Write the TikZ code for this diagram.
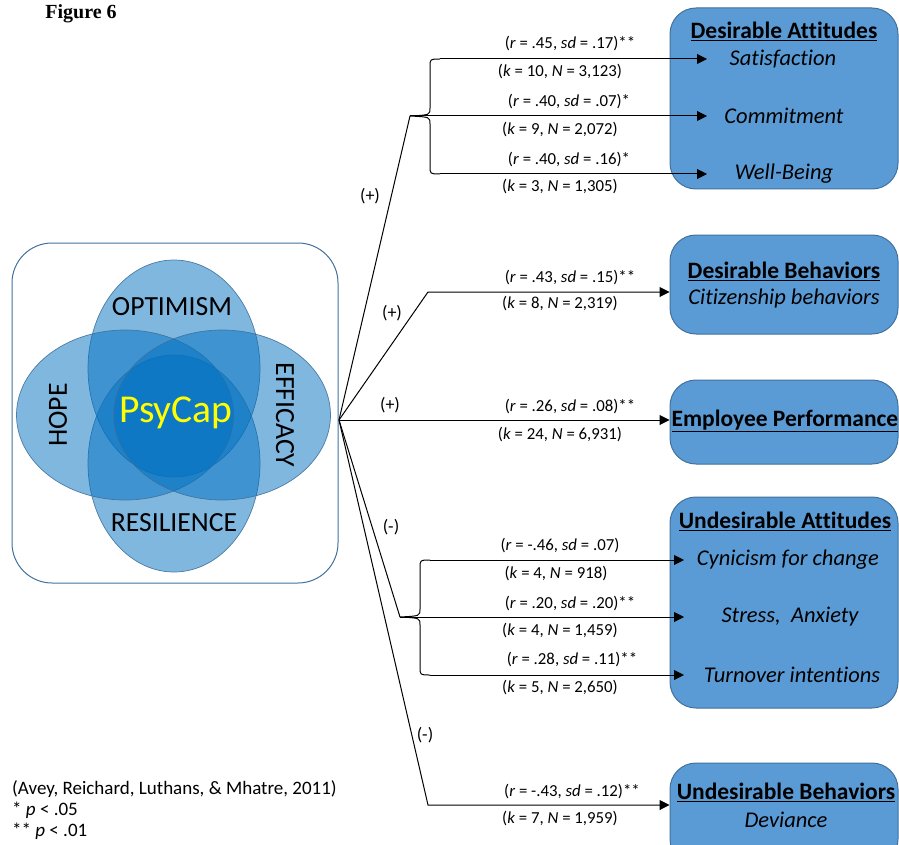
\documentclass[tikz,border=0pt]{standalone}
\usepackage{fontspec}
\setmainfont{Carlito}[Ligatures=NoCommon]
\newfontfamily\figfont{Liberation Serif}
\usetikzlibrary{arrows.meta,shapes.geometric}
\definecolor{venn}{RGB}{0,112,192}
\definecolor{boxfill}{RGB}{91,155,213}
\definecolor{boxline}{RGB}{65,113,156}
\definecolor{pyellow}{RGB}{255,255,0}
\begin{document}
\begin{tikzpicture}[x=1pt,y=-1pt,
  ell/.style={ellipse, inner sep=0pt, fill=venn, fill opacity=0.5, draw=boxline, draw opacity=0.9, line width=0.7pt},
  outbox/.style={draw=boxline, fill=boxfill, line width=1pt, rounded corners=26pt, inner sep=0pt},
  ttl/.style={font=\fontsize{23.5}{26}\selectfont\bfseries, inner sep=0pt},
  itm/.style={font=\fontsize{22.5}{25}\selectfont\itshape, inner sep=0pt},
  vlab/.style={font=\fontsize{27.7}{30}\selectfont, inner sep=0pt},
  stat/.style={font=\fontsize{16.8}{19}\selectfont, inner sep=0pt},
  sign/.style={font=\fontsize{18}{20}\selectfont, inner sep=0pt},
  note/.style={font=\fontsize{19}{21}\selectfont, inner sep=0pt, anchor=west},
  conn/.style={line width=1pt, draw=black},
  arr/.style={conn, -{Triangle[length=10pt,width=10pt]}},
]
\useasboundingbox (0,0) rectangle (899,845);

\node[font=\figfont\fontsize{20}{22}\selectfont\bfseries, inner sep=0pt] (fig) at (81,14) {Figure 6};

% PsyCap box and Venn
\node[draw=boxline, line width=1pt, rounded corners=40pt, minimum width=326pt, minimum height=340pt, inner sep=0pt] (pbox) at (175,413) {};
\node[ell, minimum width=172pt, minimum height=217pt] (eopt) at (174,368.5) {};
\node[ell, minimum width=172pt, minimum height=217pt] (eres) at (174,463.5) {};
\node[ell, minimum width=217pt, minimum height=170pt] (ehope) at (125,415) {};
\node[ell, minimum width=217pt, minimum height=170pt] (eeff) at (222,415) {};
\node[font=\fontsize{39.5}{42}\selectfont, text=pyellow, inner sep=0pt] (psy) at (176,413) {PsyCap};
\node[vlab] (opt) at (172,307) {OPTIMISM};
\node[vlab] (res) at (174,523) {RESILIENCE};
\node[vlab, rotate=90] (hope) at (58,415) {HOPE};
\node[vlab, rotate=-90] (eff) at (285,415) {EFFICACY};

% Outcome boxes
\node[outbox, minimum width=228pt, minimum height=181pt] (da) at (784,98.5) {};
\node[outbox, minimum width=228pt, minimum height=99pt] (db) at (784,284.5) {};
\node[outbox, minimum width=228pt, minimum height=84pt] (ep) at (784,422) {};
\node[outbox, minimum width=228pt, minimum height=211pt] (ua) at (784,602.5) {};
\node[outbox, minimum width=228pt, minimum height=102pt] (ub) at (784,814) {};

\node[ttl] (tda) at (784,31) {\underline{Desirable Attitudes}};
\node[itm] (sat) at (783,59) {Satisfaction};
\node[itm] (com) at (784,116) {Commitment};
\node[itm] (wel) at (784,174) {Well-Being};
\node[ttl] (tdb) at (784,271) {\underline{Desirable Behaviors}};
\node[itm] (cit) at (784,298) {Citizenship behaviors};
\node[ttl] (tep) at (785,421) {\underline{Employee Performance}};
\node[ttl] (tua) at (785,521) {\underline{Undesirable Attitudes}};
\node[itm] (cyn) at (788,560) {Cynicism for change};
\node[itm] (str) at (790,617) {Stress,\ \ Anxiety};
\node[itm] (tur) at (792,675) {Turnover intentions};
\node[ttl] (tub) at (786,792) {\underline{Undesirable Behaviors}};
\node[itm] (dev) at (786,820) {Deviance};

% connector points
\coordinate (src) at (339,420);
\coordinate (b1tip) at (410,116);
\coordinate (b1top) at (440,59);
\coordinate (b1bot) at (440,174);
\coordinate (b2tip) at (400,617);
\coordinate (b2top) at (430,560);
\coordinate (b2bot) at (430,675);
\coordinate (kdb) at (428,292);
\coordinate (kub) at (428,805);
\coordinate (asat) at (707,59);
\coordinate (acom) at (707,116);
\coordinate (awel) at (707,174);
\coordinate (acyn) at (684,560);
\coordinate (astr) at (684,617);
\coordinate (atur) at (684,675);

% fan lines
\draw[conn] (src) -- (b1tip);
\draw[conn] (src) -- (b2tip);
\draw[arr] (src) -- (kdb) -- (db.west |- kdb);
\draw[arr] (src) -- (ep.west |- src);
\draw[arr] (src) -- (kub) -- (ub.west |- kub);

% braces
\draw[conn] (b1top) .. controls (430,59) .. (430,67) -- (430,108) .. controls (430,115) .. (b1tip)
  .. controls (430,117) .. (430,124) -- (430,166) .. controls (430,174) .. (b1bot);
\draw[conn] (b2top) .. controls (420,560) .. (420,568) -- (420,609) .. controls (420,616) .. (b2tip)
  .. controls (420,618) .. (420,625) -- (420,667) .. controls (420,675) .. (b2bot);
\draw[arr] (b1top) -- (asat);
\draw[arr] (b1tip) -- (acom);
\draw[arr] (b1bot) -- (awel);
\draw[arr] (b2top) -- (acyn);
\draw[arr] (b2tip) -- (astr);
\draw[arr] (b2bot) -- (atur);

% signs
\node[sign] (s1) at (370,196) {(+)};
\node[sign] (s2) at (392,313) {(+)};
\node[sign] (s3) at (390,405) {(+)};
\node[sign] (s4) at (391,527) {(-)};
\node[sign] (s5) at (425,735) {(-)};

% stats
\node[stat] (r1) at (570,44) {(\textit{r} = .45, \textit{sd} = .17)**};
\node[stat] (k1) at (560,72) {(\textit{k} = 10, \textit{N} = 3,123)};
\node[stat] (r2) at (569,102) {(\textit{r} = .40, \textit{sd} = .07)*};
\node[stat] (k2) at (560,130) {(\textit{k} = 9, \textit{N} = 2,072)};
\node[stat] (r3) at (569,160) {(\textit{r} = .40, \textit{sd} = .16)*};
\node[stat] (k3) at (560,187) {(\textit{k} = 3, \textit{N} = 1,305)};
\node[stat] (r4) at (570,278) {(\textit{r} = .43, \textit{sd} = .15)**};
\node[stat] (k4) at (560,304) {(\textit{k} = 8, \textit{N} = 2,319)};
\node[stat] (r5) at (570,407) {(\textit{r} = .26, \textit{sd} = .08)**};
\node[stat] (k5) at (560,435) {(\textit{k} = 24, \textit{N} = 6,931)};
\node[stat] (r6) at (560,546) {(\textit{r} = -.46, \textit{sd} = .07)};
\node[stat] (k6) at (556,574) {(\textit{k} = 4, \textit{N} = 918)};
\node[stat] (r7) at (570,604) {(\textit{r} = .20, \textit{sd} = .20)**};
\node[stat] (k7) at (560,631) {(\textit{k} = 4, \textit{N} = 1,459)};
\node[stat] (r8) at (572,660) {(\textit{r} = .28, \textit{sd} = .11)**};
\node[stat] (k8) at (560,688) {(\textit{k} = 5, \textit{N} = 2,650)};
\node[stat] (r9) at (572,792) {(\textit{r} = -.43, \textit{sd} = .12)**};
\node[stat] (k9) at (560,819) {(\textit{k} = 7, \textit{N} = 1,959)};

% footnote
\node[note] (n1) at (12,789) {(Avey, Reichard, Luthans, \& Mhatre, 2011)};
\node[note] (n2) at (12,810) {* \textit{p} < .05};
\node[note] (n3) at (12,831) {** \textit{p} < .01};
\end{tikzpicture}
\end{document}
